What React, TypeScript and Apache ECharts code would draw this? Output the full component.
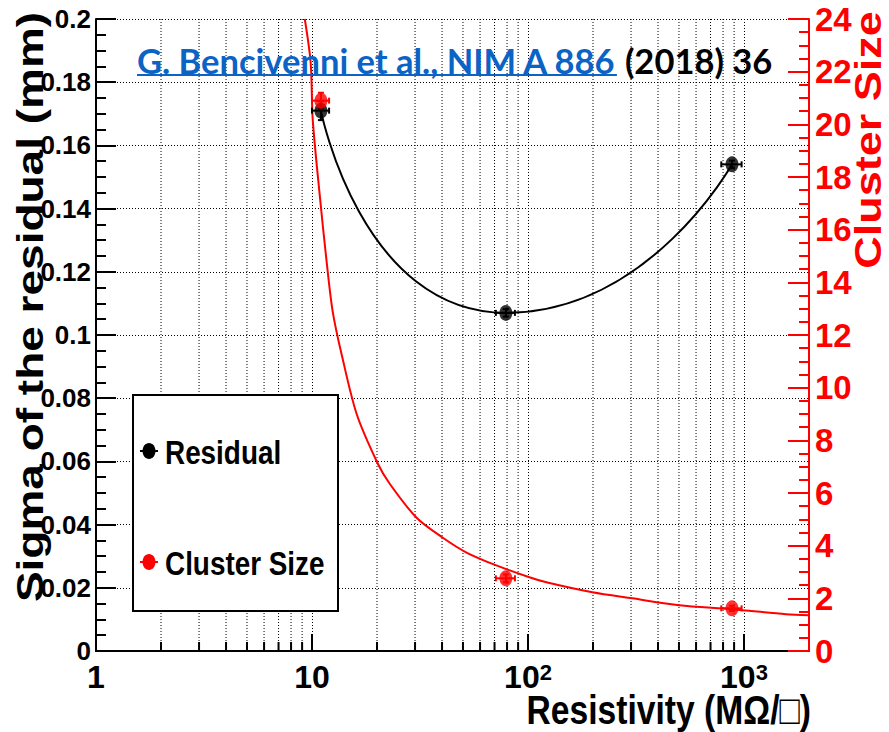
import { useEffect, useRef } from 'react';
import * as echarts from 'echarts';

// Measured points (resistivity in MOhm/sq)
const resistivity = [11, 79, 880];
const resistivityErr = [1.0, 8, 95];
const residual = [0.171, 0.107, 0.154];
const residualErr = [0.003, 0.0012, 0.0012];
const clusterSize = [20.9, 2.76, 1.62];
const clusterSizeErr = [0.3, 0.15, 0.1];

// Cluster-size fit curve
const fitResistivity = [9.26, 9.86, 10.08, 10.86, 11.69, 12.47, 13.72, 16.1, 20.1, 22.9, 30.5, 40.2, 51.9, 71.4, 101.5, 121.6, 198.6, 304, 501, 881, 1566, 2000];
const fitClusterSize = [24.0, 22.34, 20.18, 17.31, 14.78, 12.89, 11.26, 9.0, 7.14, 6.35, 5.06, 4.31, 3.74, 3.25, 2.8, 2.61, 2.23, 2.0, 1.74, 1.59, 1.4, 1.36];

const xMinorTicks = [2, 3, 4, 5, 6, 7, 8, 9, 20, 30, 40, 50, 60, 70, 80, 90, 200, 300, 400, 500, 600, 700, 800, 900];
const xTickLabels: Record<number, string> = { 1: '{n|1}', 10: '{n|10}', 100: '{n|10}{s|2}', 1000: '{n|10}{s|3}' };

const NARROW = "'Liberation Sans Narrow', 'Liberation Sans', Arial, sans-serif";
const SANS = "'Liberation Sans', Arial, sans-serif";
const RED = '#ff0000';
const BLUE = '#0b63c5';

export default function App() {
  const ref = useRef<HTMLDivElement>(null);
  useEffect(() => {
    document.body.style.margin = '0';
    if (!ref.current) return;
    const chart = echarts.init(ref.current, null, { renderer: 'svg' });

    const titleFont = "bold 34.5px Lato, 'Open Sans', sans-serif";
    const ctx = document.createElement('canvas').getContext('2d')!;
    ctx.font = titleFont;
    const blueText = 'G. Bencivenni et al., NIM A 886';
    const blueW = ctx.measureText(blueText).width;
    const titleX = 137;

    const errRender = (params: any, api: any) => {
      const x = api.value(0), y = api.value(1), xe = api.value(2), ye = api.value(3);
      const l = api.coord([x - xe, y]);
      const r = api.coord([x + xe, y]);
      const t = api.coord([x, y + ye]);
      const b = api.coord([x, y - ye]);
      const color = api.visual('color');
      const st = { stroke: color, lineWidth: 2 };
      return {
        type: 'group',
        children: [
          { type: 'line', shape: { x1: l[0], y1: l[1], x2: r[0], y2: r[1] }, style: st },
          { type: 'line', shape: { x1: t[0], y1: t[1], x2: b[0], y2: b[1] }, style: st },
          { type: 'line', shape: { x1: l[0], y1: l[1] - 3, x2: l[0], y2: l[1] + 3 }, style: st },
          { type: 'line', shape: { x1: r[0], y1: r[1] - 3, x2: r[0], y2: r[1] + 3 }, style: st },
          { type: 'line', shape: { x1: t[0] - 3, y1: t[1], x2: t[0] + 3, y2: t[1] }, style: st },
          { type: 'line', shape: { x1: b[0] - 3, y1: b[1], x2: b[0] + 3, y2: b[1] }, style: st },
        ],
      };
    };

    const option: any = {
      animation: false,
      backgroundColor: '#fff',
      grid: { left: 96, right: 80, top: 16, bottom: 81, containLabel: false },
      xAxis: [
        {
          type: 'log',
          logBase: 10,
          min: 1,
          max: 2000,
          position: 'bottom',
          axisLine: { show: true, lineStyle: { color: '#000', width: 2 } },
          axisTick: { show: true, inside: true, length: 17, lineStyle: { color: '#000', width: 2 } },
          minorTick: { show: false },
          axisLabel: {
            show: true,
            margin: 10,
            showMaxLabel: false,
            formatter: (v: number) => xTickLabels[Math.round(v)] ?? '',
            rich: {
              n: { fontFamily: NARROW, fontWeight: 'bold', fontSize: 32, color: '#000', lineHeight: 32 },
              s: { fontFamily: NARROW, fontWeight: 'bold', fontSize: 22, color: '#000', lineHeight: 22, verticalAlign: 'top', padding: [0, 0, 15, 0] },
            },
          },
          splitLine: { show: true, lineStyle: { color: '#000', width: 1, type: [1, 2] } },
        },
        {
          type: 'log',
          logBase: 10,
          min: 1,
          max: 2000,
          position: 'top',
          axisLine: { show: true, lineStyle: { color: '#000', width: 2 } },
          axisTick: { show: false },
          axisLabel: { show: false },
          splitLine: { show: false },
        },
      ],
      yAxis: [
        {
          type: 'value',
          min: 0,
          max: 0.2,
          interval: 0.02,
          position: 'left',
          axisLine: { show: true, lineStyle: { color: '#000', width: 2 } },
          axisTick: { show: true, inside: true, length: 20, lineStyle: { color: '#000', width: 2 } },
          minorTick: { show: true, splitNumber: 4, length: 10, lineStyle: { color: '#000', width: 2 } },
          axisLabel: { color: '#000', fontFamily: NARROW, fontWeight: 'bold', fontSize: 26, lineHeight: 26, margin: 5, padding: [5, 0, 0, 0] },
          splitLine: { show: true, lineStyle: { color: '#000', width: 1, type: [1, 2] } },
        },
        {
          type: 'value',
          min: 0,
          max: 24,
          interval: 2,
          position: 'right',
          z: 5,
          axisLine: { show: true, lineStyle: { color: RED, width: 2 } },
          axisTick: { show: true, inside: true, length: 21, lineStyle: { color: RED, width: 2 } },
          minorTick: { show: true, splitNumber: 4, length: 10, lineStyle: { color: RED, width: 2 } },
          axisLabel: { color: RED, fontFamily: NARROW, fontWeight: 'bold', fontSize: 33, lineHeight: 28, margin: 6, padding: [10, 0, 0, 0] },
          splitLine: { show: false },
        },
      ],
      series: [
        {
          type: 'custom',
          name: 'minor',
          silent: true,
          xAxisIndex: 0,
          yAxisIndex: 0,
          data: xMinorTicks.map((v) => [v, 0]),
          renderItem: (params: any, api: any) => {
            const x = api.value(0);
            const top = api.coord([x, 0.2]);
            const bot = api.coord([x, 0]);
            return {
              type: 'group',
              children: [
                { type: 'line', shape: { x1: bot[0], y1: top[1], x2: bot[0], y2: bot[1] }, style: { stroke: '#000', lineWidth: 1, lineDash: [1, 2] } },
                { type: 'line', shape: { x1: bot[0], y1: bot[1], x2: bot[0], y2: bot[1] - 9 }, style: { stroke: '#000', lineWidth: 2 } },
              ],
            };
          },
          z: 1,
        },
        {
          type: 'line',
          name: 'Cluster Size fit',
          xAxisIndex: 0,
          yAxisIndex: 1,
          data: fitResistivity.map((x, i) => [x, fitClusterSize[i]]),
          smooth: 0.3,
          showSymbol: false,
          lineStyle: { color: RED, width: 2 },
          z: 3,
        },
        {
          type: 'line',
          name: 'Residual curve',
          xAxisIndex: 0,
          yAxisIndex: 0,
          data: resistivity.map((x, i) => [x, residual[i]]),
          smooth: 0.7,
          showSymbol: false,
          lineStyle: { color: '#000', width: 2 },
          z: 3,
        },
        {
          type: 'custom',
          name: 'Residual err',
          xAxisIndex: 0,
          yAxisIndex: 0,
          itemStyle: { color: '#000' },
          data: resistivity.map((x, i) => [x, residual[i], resistivityErr[i], residualErr[i]]),
          renderItem: errRender,
          z: 4,
        },
        {
          type: 'custom',
          name: 'Cluster err',
          xAxisIndex: 0,
          yAxisIndex: 1,
          itemStyle: { color: RED },
          data: resistivity.map((x, i) => [x, clusterSize[i], resistivityErr[i], clusterSizeErr[i]]),
          renderItem: errRender,
          z: 4,
        },
        {
          type: 'scatter',
          name: 'Residual',
          xAxisIndex: 0,
          yAxisIndex: 0,
          symbol: 'circle',
          symbolSize: [13, 16],
          itemStyle: { color: '#000' },
          data: resistivity.map((x, i) => [x, residual[i]]),
          z: 5,
        },
        {
          type: 'scatter',
          name: 'Cluster Size',
          xAxisIndex: 0,
          yAxisIndex: 1,
          symbol: 'circle',
          symbolSize: [13, 16],
          itemStyle: { color: RED },
          data: resistivity.map((x, i) => [x, clusterSize[i]]),
          z: 5,
        },
      ],
      graphic: [
        // legend
        { type: 'rect', shape: { x: 133, y: 395, width: 205, height: 216 }, style: { fill: '#fff', stroke: '#000', lineWidth: 2 }, z: 20 },
        { type: 'line', shape: { x1: 140, y1: 451, x2: 158, y2: 451 }, style: { stroke: '#000', lineWidth: 2 }, z: 21 },
        { type: 'ellipse', shape: { cx: 149, cy: 451, rx: 6.5, ry: 8 }, style: { fill: '#000' }, z: 21 },
        { type: 'text', x: 165, y: 453, scaleX: 0.82, z: 21, style: { text: 'Residual', fontFamily: SANS, fontWeight: 'bold', fontSize: 34, fill: '#000', align: 'left', verticalAlign: 'middle' } },
        { type: 'line', shape: { x1: 140, y1: 562, x2: 158, y2: 562 }, style: { stroke: RED, lineWidth: 2 }, z: 21 },
        { type: 'ellipse', shape: { cx: 149, cy: 562, rx: 6.5, ry: 8 }, style: { fill: RED }, z: 21 },
        { type: 'text', x: 165, y: 564, scaleX: 0.82, z: 21, style: { text: 'Cluster Size', fontFamily: SANS, fontWeight: 'bold', fontSize: 34, fill: '#000', align: 'left', verticalAlign: 'middle' } },
        // axis titles
        { type: 'text', x: 811, y: 710, scaleX: 0.82, z: 21, style: { text: 'Resistivity (M\u03A9/\u25A1)', fontFamily: SANS, fontWeight: 'bold', fontSize: 41, fill: '#000', align: 'right', verticalAlign: 'middle' } },
        { type: 'text', x: 30, y: 307, rotation: Math.PI / 2, scaleY: 0.82, z: 21, style: { text: 'Sigma of the residual (mm)', fontFamily: SANS, fontWeight: 'bold', fontSize: 46, fill: '#000', align: 'center', verticalAlign: 'middle' } },
        { type: 'text', x: 868, y: 140, rotation: Math.PI / 2, scaleY: 0.82, z: 21, style: { text: 'Cluster Size', fontFamily: SANS, fontWeight: 'bold', fontSize: 45, fill: RED, align: 'center', verticalAlign: 'middle' } },
        // reference
        { type: 'text', x: titleX, y: 60, z: 21, style: { text: blueText, font: titleFont, fill: BLUE, align: 'left', verticalAlign: 'middle' } },
        { type: 'line', shape: { x1: titleX, y1: 75, x2: titleX + blueW, y2: 75 }, style: { stroke: BLUE, lineWidth: 2 }, z: 21 },
        { type: 'text', x: titleX + blueW + 8, y: 60, z: 21, style: { text: '(2018) 36', font: titleFont, fill: '#000', align: 'left', verticalAlign: 'middle' } },
      ],
    };
    chart.setOption(option);
    return () => chart.dispose();
  }, []);
  return <div ref={ref} style={{ width: 889, height: 732 }} />;
}
